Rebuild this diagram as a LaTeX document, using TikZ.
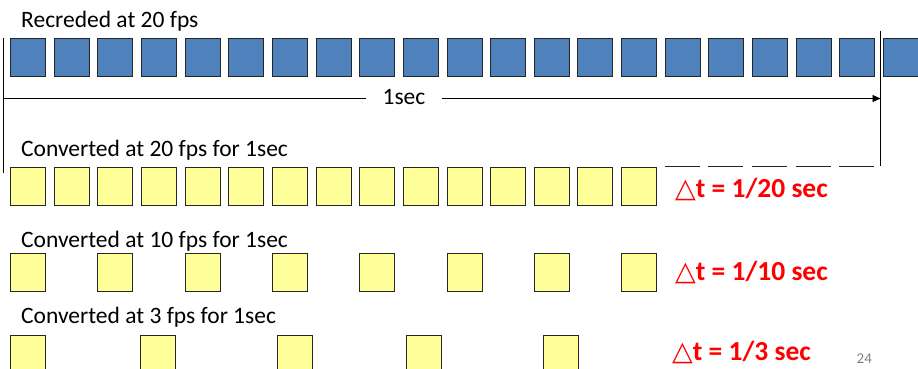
\documentclass[tikz,border=0pt]{standalone}
\usepackage{fontspec}
\setmainfont{Carlito}
\newfontfamily\dejavu{DejaVu Sans}
\usetikzlibrary{arrows.meta}
\definecolor{fblue}{HTML}{4F81BD}
\definecolor{fyellow}{HTML}{FFFF99}
\definecolor{dred}{HTML}{FF0000}
\tikzset{
  frame/.style={draw=black!85, line width=0.9pt, minimum width=35pt, minimum height=38pt, inner sep=0pt, anchor=north west},
  bluef/.style={frame, fill=fblue},
  yellowf/.style={frame, fill=fyellow},
  lbl/.style={anchor=base west, inner sep=0pt, font=\fontsize{23.5}{26}\selectfont},
  dlbl/.style={anchor=base west, inner sep=0pt, text=dred, font=\fontsize{27.5}{31}\selectfont\bfseries},
  rule/.style={line width=0.9pt, black}
}
\begin{document}
\begin{tikzpicture}[x=1pt,y=-1pt]
\useasboundingbox (0,0) rectangle (918,369);
% labels
\node[lbl] (t1) at (21,28) {Recreded at 20 fps};
\node[lbl] (t2) at (21,156) {Converted at 20 fps for 1sec};
\node[lbl] (t3) at (21,247) {Converted at 10 fps for 1sec};
\node[lbl] (t4) at (21,323) {Converted at 3 fps for 1sec};
% blue frames
\foreach \i in {0,...,20} {
  \node[bluef] (b\i) at ({10+\i*43.65},38) {};
}
% yellow 20 fps
\foreach \i in {0,...,14} {
  \node[yellowf] (y\i) at ({10+\i*43.65},167) {};
}
% yellow 10 fps
\foreach \i in {0,...,7} {
  \node[yellowf] (z\i) at ({10+\i*87.3},253) {};
}
% yellow 3 fps
\foreach \x [count=\i] in {10,140,277,406,543} {
  \node[yellowf] (w\i) at (\x,335) {};
}
% rules
\coordinate (LT) at (3,38);
\coordinate (LB) at (3,173);
\coordinate (RT) at (880.5,31);
\coordinate (RB) at (880.5,166);
\draw[rule] (LT) -- (LB);
\draw[rule] (RT) -- (RB);
\coordinate (AL) at (3,98.5);
\coordinate (AR) at (880.5,98.5);
\draw[rule, -{Triangle[length=8pt,width=7pt]}] (AL) -- (AR);
\node[fill=white, inner xsep=17pt, inner ysep=2pt, font=\fontsize{23.5}{26}\selectfont] (sec) at (404,97) {1sec};
\coordinate (DL) at (664.7,166);
\coordinate (DR) at (874.5,166);
\draw[line width=0.9pt, black!85, dash pattern=on 35pt off 8.65pt] (DL) -- (DR);
% delta t labels
\node[dlbl] (d1) at (675,197) {{\dejavu\fontsize{27}{30}\selectfont △}t = 1/20 sec};
\node[dlbl] (d2) at (675,280) {{\dejavu\fontsize{27}{30}\selectfont △}t = 1/10 sec};
\node[dlbl] (d3) at (672,360) {{\dejavu\fontsize{27}{30}\selectfont △}t = 1/3 sec};
\node[anchor=base west, inner sep=0pt, text=black!50, font=\fontsize{15}{17}\selectfont] (pg) at (856.5,363) {24};
\end{tikzpicture}
\end{document}
